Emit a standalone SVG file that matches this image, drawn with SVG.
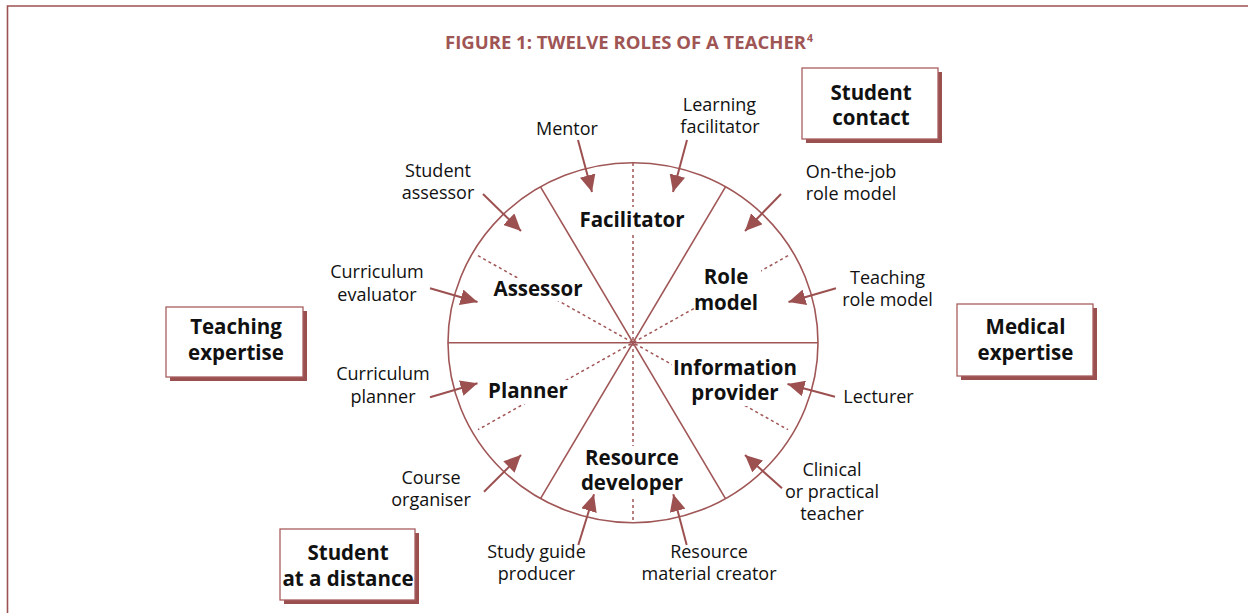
<svg xmlns="http://www.w3.org/2000/svg" width="1248" height="613" viewBox="0 0 1248 613">
  <defs>
    <marker id="head" markerUnits="userSpaceOnUse" markerWidth="18" markerHeight="16" refX="17" refY="8" orient="auto" viewBox="0 0 18 16">
      <path d="M0,0 L17,8 L0,16 Z" fill="#9c5050"/>
    </marker>
    <style>
      .frame { fill: none; stroke: #9c5252; stroke-width: 1.6; }
      .title { font-family: "Open Sans", "DejaVu Sans", sans-serif; font-weight: 700; fill: #a05555; }
      .wheel { fill: none; stroke: #a05656; stroke-width: 1.6; }
      .dots { fill: none; stroke: #a05656; stroke-width: 1.5; stroke-dasharray: 3 3; }
      .ptr { fill: none; stroke: #9c5050; stroke-width: 2; marker-end: url(#head); }
      .lbl { font-family: "Open Sans", "DejaVu Sans", sans-serif; font-size: 18px; fill: #111; text-anchor: middle; }
      .role { font-family: "Open Sans", "DejaVu Sans", sans-serif; font-size: 20.5px; font-weight: 700; fill: #111; text-anchor: middle; }
      .mask { fill: #fff; }
      .box { fill: #fff; stroke: #a85f5f; stroke-width: 1.3; }
      .shadow { fill: #9b5050; }
      .boxtxt { font-family: "Open Sans", "DejaVu Sans", sans-serif; font-size: 20.5px; font-weight: 700; fill: #111; text-anchor: middle; }
    </style>
  </defs>

  <rect width="1248" height="613" fill="#fff"/>
  <!-- page frame -->
  <polyline class="frame" points="7.5,613 7.5,6 1248,6"/>

  <!-- heading -->
  <text class="title" x="445" y="48.5" font-size="18.5" textLength="361" lengthAdjust="spacingAndGlyphs">FIGURE 1: TWELVE ROLES OF A TEACHER</text>
  <text class="title" x="807" y="42" font-size="10.5">4</text>

  <!-- wheel: outline, solid sector dividers and dotted half-sector lines -->
  <g id="wheel">
    <line class="dots" x1="633" y1="163" x2="633" y2="522.5"/>
    <line class="dots" x1="478" y1="255.7" x2="788" y2="429.7"/>
    <line class="dots" x1="788" y1="255.7" x2="478" y2="429.7"/>
    <ellipse class="wheel" cx="633" cy="342.7" rx="185" ry="180"/>
    <line class="wheel" x1="448" y1="342.7" x2="818" y2="342.7"/>
    <line class="wheel" x1="540.5" y1="186.8" x2="725.5" y2="498.6"/>
    <line class="wheel" x1="725.5" y1="186.8" x2="540.5" y2="498.6"/>
  </g>

  <!-- sector roles -->
  <g id="facilitator">
    <rect class="mask" x="577" y="207" width="112" height="26"/>
    <text class="role" x="632" y="226.5">Facilitator</text>
  </g>
  <g id="assessor">
    <rect class="mask" x="494" y="278" width="89" height="23"/>
    <text class="role" x="538" y="295.7">Assessor</text>
  </g>
  <g id="role-model">
    <rect class="mask" x="700" y="267" width="61" height="47"/>
    <text class="role" x="726" y="284">Role<tspan x="726" dy="25.5">model</tspan></text>
  </g>
  <g id="planner">
    <rect class="mask" x="487" y="380" width="83" height="24"/>
    <text class="role" x="528" y="398.3">Planner</text>
  </g>
  <g id="information-provider">
    <rect class="mask" x="672" y="355" width="127" height="51"/>
    <text class="role" x="735" y="374.5">Information<tspan x="735" dy="25.5">provider</tspan></text>
  </g>
  <g id="resource-developer">
    <rect class="mask" x="582" y="446" width="103" height="50"/>
    <text class="role" x="632" y="464.5">Resource<tspan x="632" dy="25.5">developer</tspan></text>
  </g>

  <!-- task labels -->
  <g id="mentor"><text class="lbl" x="567" y="135">Mentor</text></g>
  <g id="learning-facilitator">
    <text class="lbl" x="719.5" y="110.5">Learning<tspan x="720" dy="22.5">facilitator</tspan></text>
  </g>
  <g id="student-assessor">
    <text class="lbl" x="438" y="177">Student<tspan x="438" dy="22.3">assessor</tspan></text>
  </g>
  <g id="on-the-job">
    <text class="lbl" x="851" y="178">On-the-job<tspan x="851" dy="22">role model</tspan></text>
  </g>
  <g id="curriculum-evaluator">
    <text class="lbl" x="377" y="278.3">Curriculum<tspan x="377" dy="22.7">evaluator</tspan></text>
  </g>
  <g id="teaching-role-model">
    <text class="lbl" x="887.5" y="284">Teaching<tspan x="887.5" dy="22">role model</tspan></text>
  </g>
  <g id="curriculum-planner">
    <text class="lbl" x="383" y="380">Curriculum<tspan x="383" dy="22.7">planner</tspan></text>
  </g>
  <g id="lecturer"><text class="lbl" x="878.5" y="402.5">Lecturer</text></g>
  <g id="course-organiser">
    <text class="lbl" x="431" y="483.5">Course<tspan x="431" dy="22.3">organiser</tspan></text>
  </g>
  <g id="clinical-teacher">
    <text class="lbl" x="832" y="476">Clinical<tspan x="832" dy="22.3">or practical</tspan><tspan x="832" dy="22">teacher</tspan></text>
  </g>
  <g id="study-guide-producer">
    <text class="lbl" x="536.5" y="558">Study guide<tspan x="536.5" dy="22">producer</tspan></text>
  </g>
  <g id="resource-material-creator">
    <text class="lbl" x="709" y="558">Resource<tspan x="709" dy="22">material creator</tspan></text>
  </g>

  <!-- pointers from task labels into the wheel -->
  <g id="connectors">
    <line class="ptr" x1="578" y1="140" x2="592" y2="192"/>
    <line class="ptr" x1="687" y1="140" x2="673" y2="192"/>
    <line class="ptr" x1="483" y1="194" x2="521" y2="231"/>
    <line class="ptr" x1="781" y1="194" x2="745" y2="231"/>
    <line class="ptr" x1="430" y1="288.3" x2="477.5" y2="302"/>
    <line class="ptr" x1="836" y1="288.3" x2="788.5" y2="302"/>
    <line class="ptr" x1="430" y1="397.3" x2="477.5" y2="383.3"/>
    <line class="ptr" x1="835" y1="396.7" x2="787.5" y2="384"/>
    <line class="ptr" x1="484" y1="491.7" x2="521" y2="455"/>
    <line class="ptr" x1="782" y1="488.3" x2="745" y2="455"/>
    <line class="ptr" x1="578.3" y1="545" x2="594" y2="494.3"/>
    <line class="ptr" x1="686.7" y1="545" x2="673.3" y2="494.3"/>
  </g>

  <!-- shadowed category boxes -->
  <g id="student-contact">
    <rect class="shadow" x="806" y="72" width="136" height="71"/>
    <rect class="box" x="802" y="68" width="136" height="71"/>
    <text class="boxtxt" x="871" y="99.5">Student<tspan x="871" dy="25.5">contact</tspan></text>
  </g>
  <g id="teaching-expertise">
    <rect class="shadow" x="170" y="311" width="137" height="70"/>
    <rect class="box" x="166" y="307" width="137" height="70"/>
    <text class="boxtxt" x="236" y="334">Teaching<tspan x="236" dy="26">expertise</tspan></text>
  </g>
  <g id="medical-expertise">
    <rect class="shadow" x="961" y="308" width="136" height="72"/>
    <rect class="box" x="957" y="304" width="136" height="72"/>
    <text class="boxtxt" x="1025.5" y="333.5">Medical<tspan x="1025.5" dy="26">expertise</tspan></text>
  </g>
  <g id="student-distance">
    <rect class="shadow" x="284" y="533" width="135" height="71"/>
    <rect class="box" x="280" y="529" width="135" height="71"/>
    <text class="boxtxt" x="348" y="560">Student<tspan x="348" dy="25.5">at a distance</tspan></text>
  </g>
</svg>
